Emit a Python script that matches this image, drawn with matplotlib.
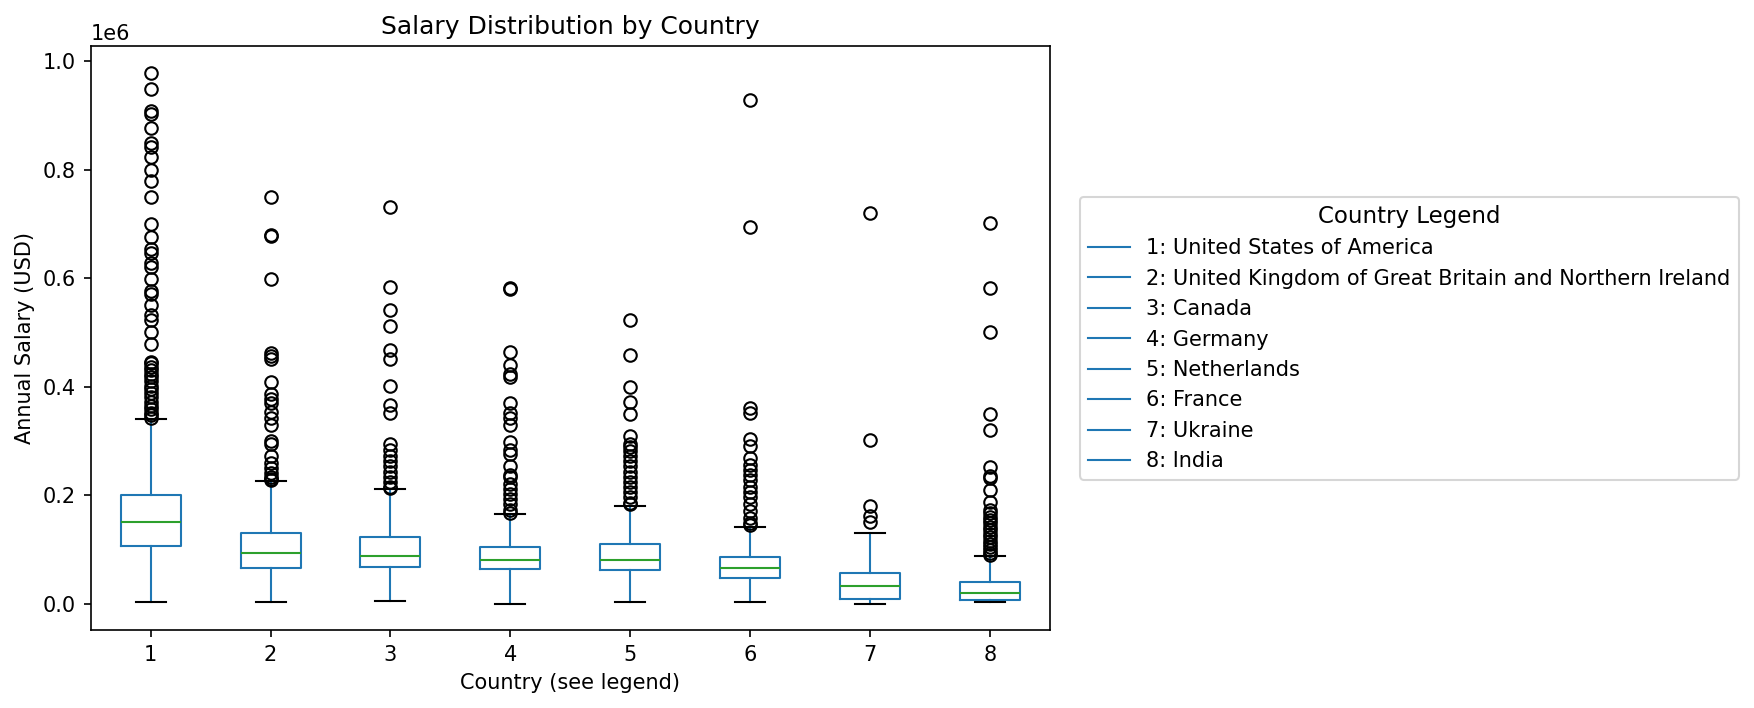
import numpy as np
import matplotlib
matplotlib.use("Agg")
import matplotlib.pyplot as plt
from matplotlib.lines import Line2D

countries = ["United States of America",
             "United Kingdom of Great Britain and Northern Ireland",
             "Canada", "Germany", "Netherlands", "France", "Ukraine", "India"]

# box statistics, thousands of USD
q1_k = [106, 65, 67, 63, 61, 48, 9, 7]
med_k = [150, 93, 87, 81, 81, 65, 33, 20]
q3_k = [200, 130, 123, 105, 109, 86, 57, 40]
whislo_k = [2, 2, 4, 0, 2, 2, 0, 2]
whishi_k = [340, 226, 211, 165, 180, 141, 131, 87]

fliers_k = [
    [979, 949, 908, 902, 877, 850, 842, 824, 800, 780, 750, 700, 675, 653, 646,
     627, 621, 599, 576, 570, 551, 532, 523, 500, 478, 446, 443, 436, 430, 424,
     418, 410, 402, 395, 388, 380, 372, 365, 358, 352, 347, 343],
    [749, 680, 678, 599, 462, 456, 450, 408, 386, 377, 370, 354, 342, 329, 300,
     294, 272, 259, 250, 240, 234, 230, 228],
    [731, 583, 542, 512, 467, 451, 402, 367, 352, 294, 284, 272, 262, 253, 243,
     234, 224, 215, 213],
    [582, 580, 464, 440, 424, 418, 370, 351, 342, 329, 297, 284, 275, 253, 237,
     234, 221, 211, 202, 192, 183, 173, 167],
    [522, 458, 400, 371, 350, 309, 294, 288, 281, 272, 262, 253, 243, 234, 224,
     215, 205, 196, 186, 183],
    [928, 695, 361, 351, 303, 291, 269, 256, 246, 237, 227, 214, 205, 196, 183,
     170, 157, 148, 144],
    [720, 301, 180, 161, 151],
    [702, 582, 501, 349, 320, 251, 235, 232, 209, 187, 173, 167, 160, 154, 148,
     141, 135, 128, 122, 116, 110, 104, 99, 94, 90],
]

stats = []
for i in range(len(countries)):
    stats.append({
        "q1": q1_k[i] * 1000, "med": med_k[i] * 1000, "q3": q3_k[i] * 1000,
        "whislo": whislo_k[i] * 1000, "whishi": whishi_k[i] * 1000,
        "fliers": np.array(fliers_k[i]) * 1000,
    })

fig = plt.figure(figsize=(1754 / 150, 708 / 150), dpi=150)
ax = fig.add_axes([0.0517, 0.110, 0.5469, 0.825])

blue = "#1f77b4"
ax.bxp(stats, positions=range(1, len(countries) + 1), widths=0.5,
       boxprops=dict(color=blue), whiskerprops=dict(color=blue),
       medianprops=dict(color="#2ca02c"), capprops=dict(color="black"),
       flierprops=dict(marker="o", markerfacecolor="none",
                       markeredgecolor="black"))

ax.set_xticks(range(1, len(countries) + 1))
ax.set_xticklabels([str(i) for i in range(1, len(countries) + 1)])
ax.set_title("Salary Distribution by Country")
ax.set_xlabel("Country (see legend)")
ax.set_ylabel("Annual Salary (USD)")

handles = [Line2D([0], [0], color=blue, lw=1) for _ in countries]
labels = [f"{i + 1}: {c}" for i, c in enumerate(countries)]
ax.legend(handles, labels, title="Country Legend", loc="center left",
          bbox_to_anchor=(1.02, 0.5), title_fontsize=11)

fig.savefig("out.png", dpi=150)
